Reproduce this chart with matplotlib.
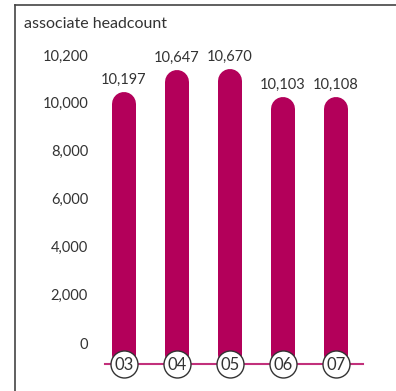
import numpy as np
import matplotlib
matplotlib.use("Agg")
import matplotlib.pyplot as plt
import matplotlib.transforms as mtransforms
from matplotlib.lines import Line2D

# ---- data ----
years = ["03", "04", "05", "06", "07"]
headcount = [10197, 10647, 10670, 10103, 10108]
value_labels = ["10,197", "10,647", "10,670", "10,103", "10,108"]
tick_labels = ["0", "2,000", "4,000", "6,000", "8,000", "10,000", "10,200"]

title = "associate headcount"

# ---- style ----
BAR = "#B3005A"
BASE = "#C2307B"
TXT = "#333333"
FRAME = "#444444"
plt.rcParams["font.family"] = ["Lato", "DejaVu Sans"]

W, H, DPI = 396, 391, 100
fig = plt.figure(figsize=(W / DPI, H / DPI), dpi=DPI)

# axes geometry in pixels
left_px, right_px, base_px, top_px = 105, 363, 364, 5
ax = fig.add_axes([left_px / W, (H - base_px) / H,
                   (right_px - left_px) / W, (base_px - top_px) / H])

# piecewise (broken) value scale: expanded above 10,000
K = 2.075
BRK = 10000.0
def fwd(v):
    v = np.asarray(v, dtype=float)
    return np.where(v <= BRK, v, BRK + (v - BRK) * K)
def inv(t):
    t = np.asarray(t, dtype=float)
    return np.where(t <= BRK, t, BRK + (t - BRK) / K)
ax.set_yscale("function", functions=(fwd, inv))
ax.set_ylim(-871, 11940)
x = np.arange(len(years))
ax.set_xlim(-0.358, 4.51)

# bars with rounded tops (round cap; shifted so the cap top sits on the value)
cap = 12  # px, half bar width
tr = mtransforms.offset_copy(ax.transData, fig=fig, x=0, y=-cap, units="dots")
for xi, v in zip(x, headcount):
    ln = Line2D([xi, xi], [0, v], color=BAR, lw=2 * cap * 72 / DPI,
                solid_capstyle="round", transform=tr, zorder=2, clip_on=False)
    ax.add_line(ln)

# value labels
for xi, v, lab in zip(x, headcount, value_labels):
    ax.annotate(lab, (xi, v), xytext=(0, 8 * 72 / DPI), textcoords="offset points",
                ha="center", va="baseline", fontsize=10.5, color=TXT, zorder=5)

# y ticks
tick_pos = [0, 2000, 4000, 6000, 8000, 10000, 10940]
ax.set_yticks(tick_pos)
ax.set_yticklabels(tick_labels)
ax.tick_params(axis="y", length=0, pad=17 * 72 / DPI, labelsize=10.5, labelcolor=TXT)
ax.set_xticks([])

for s in ["top", "right", "left"]:
    ax.spines[s].set_visible(False)
ax.spines["bottom"].set_color(BASE)
ax.spines["bottom"].set_linewidth(1.5)
ax.spines["bottom"].set_zorder(3)
ax.patch.set_visible(False)

# circled year labels on the baseline
btr = mtransforms.blended_transform_factory(ax.transData, ax.transAxes)
ax.scatter(x, np.zeros(len(x)), s=(27 * 72 / DPI) ** 2, marker="o", facecolor="white",
           edgecolor="#333333", linewidth=1.0, transform=btr, zorder=6, clip_on=False)
for xi, yr in zip(x, years):
    ax.text(xi, 0, yr, transform=btr, ha="center", va="center_baseline",
            fontsize=12, color=TXT, zorder=7)

# frame lines (top and left)
fig.add_artist(Line2D([15 / W, 1], [(H - 5) / H, (H - 5) / H], color=FRAME, lw=1.2,
                      transform=fig.transFigure))
fig.add_artist(Line2D([15 / W, 15 / W], [0, (H - 5) / H], color=FRAME, lw=1.2,
                      transform=fig.transFigure))

# title
fig.text(24 / W, (H - 28) / H, title, ha="left", va="baseline", fontsize=11.5, color=TXT)

fig.savefig("out.png", dpi=DPI)
